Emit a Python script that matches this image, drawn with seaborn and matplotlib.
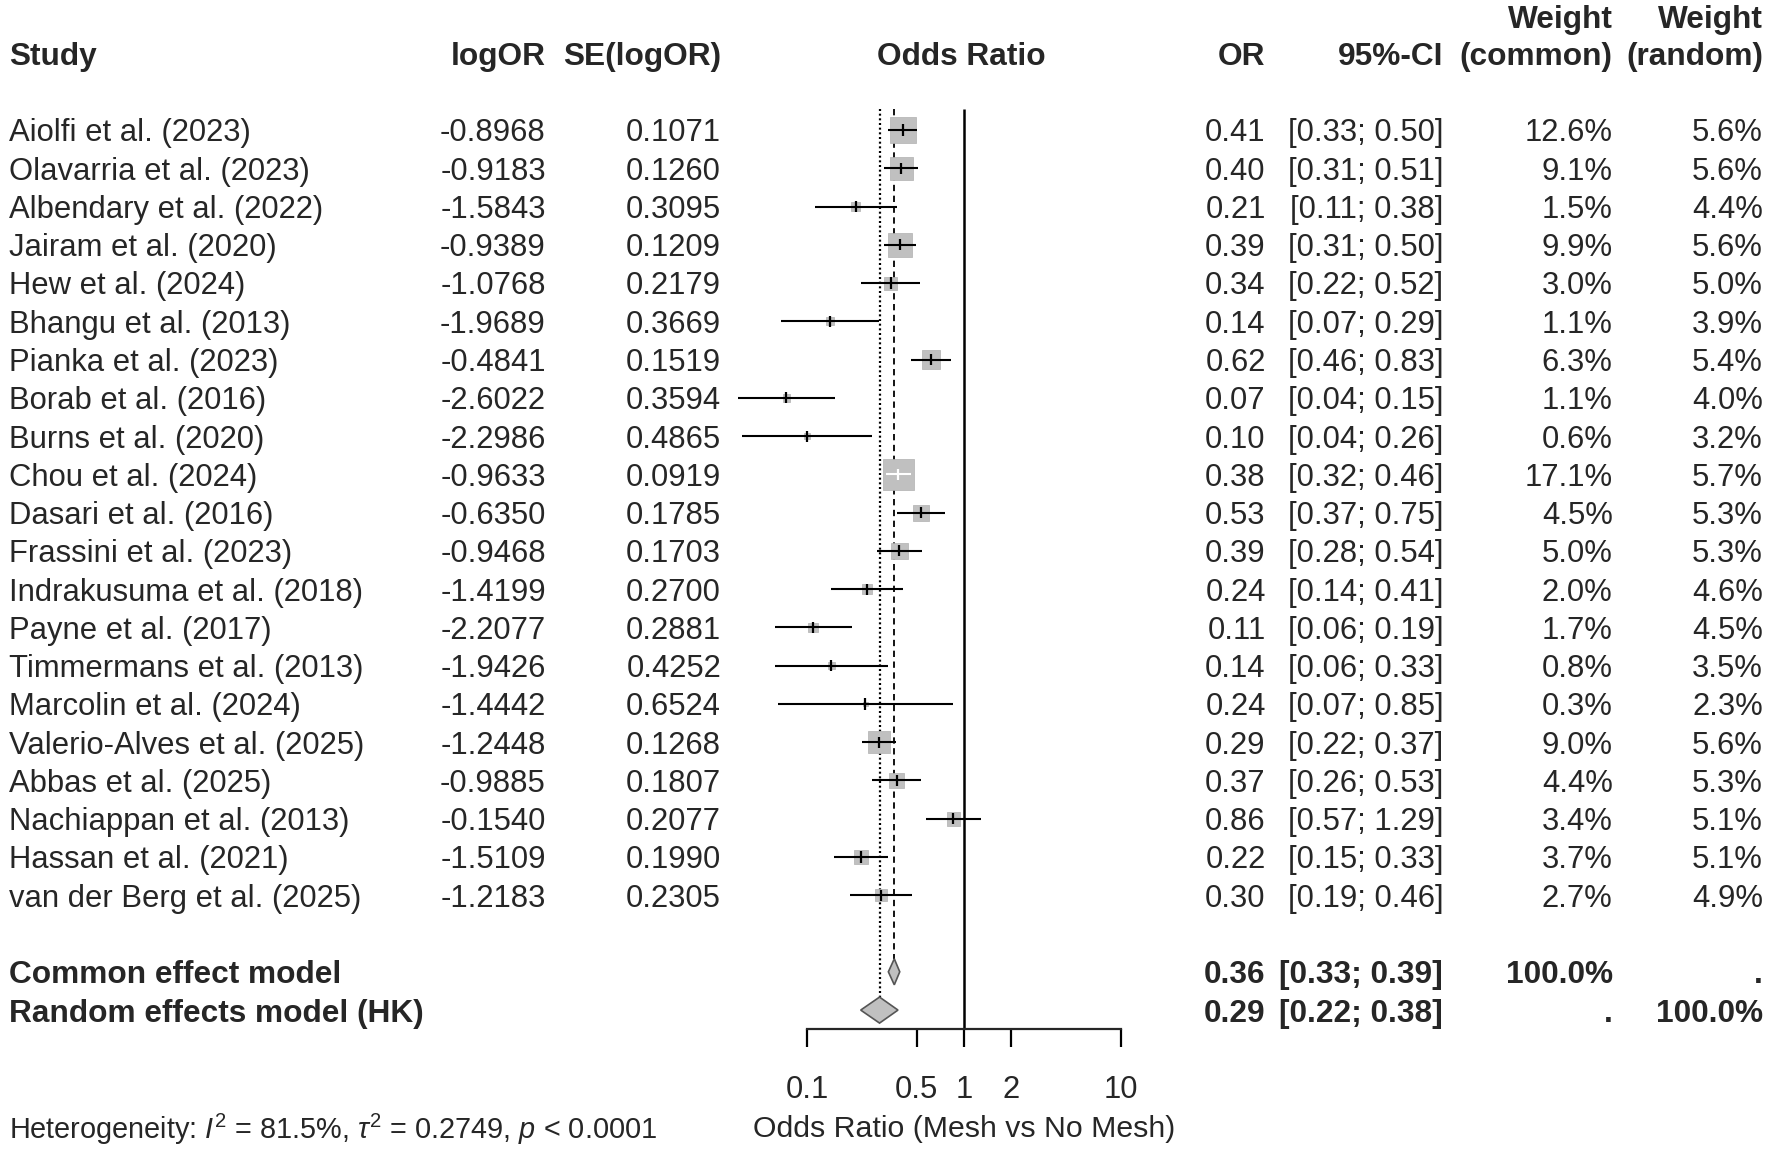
import numpy as np
import pandas as pd
import seaborn as sns
import matplotlib.pyplot as plt
from matplotlib.ticker import NullLocator
from matplotlib.transforms import blended_transform_factory

studies = [
    "Aiolfi et al. (2023)", "Olavarria et al. (2023)", "Albendary et al. (2022)",
    "Jairam et al. (2020)", "Hew et al. (2024)", "Bhangu et al. (2013)",
    "Pianka et al. (2023)", "Borab et al. (2016)", "Burns et al. (2020)",
    "Chou et al. (2024)", "Dasari et al. (2016)", "Frassini et al. (2023)",
    "Indrakusuma et al. (2018)", "Payne et al. (2017)", "Timmermans et al. (2013)",
    "Marcolin et al. (2024)", "Valerio-Alves et al. (2025)", "Abbas et al. (2025)",
    "Nachiappan et al. (2013)", "Hassan et al. (2021)", "van der Berg et al. (2025)",
]
log_or = [-0.8968, -0.9183, -1.5843, -0.9389, -1.0768, -1.9689, -0.4841, -2.6022,
          -2.2986, -0.9633, -0.6350, -0.9468, -1.4199, -2.2077, -1.9426, -1.4442,
          -1.2448, -0.9885, -0.1540, -1.5109, -1.2183]
se_log_or = [0.1071, 0.1260, 0.3095, 0.1209, 0.2179, 0.3669, 0.1519, 0.3594,
             0.4865, 0.0919, 0.1785, 0.1703, 0.2700, 0.2881, 0.4252, 0.6524,
             0.1268, 0.1807, 0.2077, 0.1990, 0.2305]
or_shown = [0.41, 0.40, 0.21, 0.39, 0.34, 0.14, 0.62, 0.07, 0.10, 0.38, 0.53,
            0.39, 0.24, 0.11, 0.14, 0.24, 0.29, 0.37, 0.86, 0.22, 0.30]
ci_lo_shown = [0.33, 0.31, 0.11, 0.31, 0.22, 0.07, 0.46, 0.04, 0.04, 0.32, 0.37,
               0.28, 0.14, 0.06, 0.06, 0.07, 0.22, 0.26, 0.57, 0.15, 0.19]
ci_hi_shown = [0.50, 0.51, 0.38, 0.50, 0.52, 0.29, 0.83, 0.15, 0.26, 0.46, 0.75,
               0.54, 0.41, 0.19, 0.33, 0.85, 0.37, 0.53, 1.29, 0.33, 0.46]
w_common = [12.6, 9.1, 1.5, 9.9, 3.0, 1.1, 6.3, 1.1, 0.6, 17.1, 4.5, 5.0, 2.0,
            1.7, 0.8, 0.3, 9.0, 4.4, 3.4, 3.7, 2.7]
w_random = [5.6, 5.6, 4.4, 5.6, 5.0, 3.9, 5.4, 4.0, 3.2, 5.7, 5.3, 5.3, 4.6,
            4.5, 3.5, 2.3, 5.6, 5.3, 5.1, 5.1, 4.9]

summary_labels = ["Common effect model", "Random effects model (HK)"]
summary_or = [0.36, 0.29]
summary_lo = [0.33, 0.22]
summary_hi = [0.39, 0.38]
summary_w_common = ["100.0%", "."]
summary_w_random = [".", "100.0%"]

x_ticks = [0.1, 0.5, 1, 2, 10]
x_tick_labels = ["0.1", "0.5", "1", "2", "10"]
x_label = "Odds Ratio (Mesh vs No Mesh)"
heterogeneity = "Heterogeneity: $I^2$ = 81.5%, $\\tau^2$ = 0.2749, $p$ < 0.0001"

sns.set_style("white")
plt.rcParams["font.family"] = ["Liberation Sans", "DejaVu Sans"]
plt.rcParams["mathtext.fontset"] = "custom"
plt.rcParams["mathtext.rm"] = "Liberation Sans"
plt.rcParams["mathtext.it"] = "Liberation Sans:italic"

FS = 22.3
FS_B = 22.8
GREY = "#c0c0c0"
DY = 0.09  # small downward nudge so text sits on the row centre

df = pd.DataFrame({
    "study": studies, "logor": log_or, "se": se_log_or,
    "w_common": w_common, "w_random": w_random,
})
df["row"] = np.arange(len(df))
df["or"] = np.exp(df["logor"])
df["lo"] = np.exp(df["logor"] - 1.96 * df["se"])
df["hi"] = np.exp(df["logor"] + 1.96 * df["se"])

n = len(df)
sum_rows = [n + 1, n + 2]

fig = plt.figure(figsize=(17.72, 11.53), dpi=100)
ax = fig.add_axes([0, 0, 1, 1])
ax.set_xscale("log")
# 157 px per decade, OR = 1 at x = 964 px
ax.set_xlim(10 ** (-964 / 157.1), 10 ** ((1772 - 964) / 157.1))
ax.set_ylim(26.735, -3.397)

# reference lines
top = -0.55
ax.vlines(1, top, n + 2.5, color="black", lw=1.8, zorder=1)
ax.vlines(summary_or[0], top, sum_rows[0] - 0.34, color="black", lw=1.3,
          linestyles=(0, (3.5, 2.5)), zorder=1)
ax.vlines(summary_or[1], top, sum_rows[1] - 0.34, color="black", lw=1.6,
          linestyles=(0, (0.9, 1.2)), zorder=1)

# squares, area proportional to common-effect weight
max_side_pt = 31 / 1.389
sns.scatterplot(data=df, x="or", y="row", size="w_common",
                sizes=(0, max_side_pt ** 2), size_norm=(0, max(w_common)),
                marker="s", color=GREY, edgecolor="#b0b0b0", linewidth=0.5,
                legend=False, ax=ax, zorder=2)

# CI lines: white when they fit inside the square
side_dec = max_side_pt * 1.389 * np.sqrt(df["w_common"] / max(w_common)) / 157.1
inside = (np.log10(df["hi"]) - np.log10(df["lo"])) < side_dec
line_cols = ["white" if v else "black" for v in inside]
ax.hlines(df["row"], df["lo"], df["hi"], colors=line_cols, lw=1.5, zorder=3)
ax.scatter(df["or"], df["row"], marker="|", s=64, linewidths=1.6,
           c=line_cols, zorder=4)

# diamonds
for r, est, lo, hi in zip(sum_rows, summary_or, summary_lo, summary_hi):
    ax.fill([lo, est, hi, est], [r, r - 0.34, r, r + 0.34], facecolor=GREY,
            edgecolor="#555555", lw=1.2, zorder=3)

# x axis
for side in ["left", "top", "right"]:
    ax.spines[side].set_visible(False)
ax.spines["bottom"].set_position(("data", n + 2.5))
ax.spines["bottom"].set_bounds(0.1, 10)
ax.spines["bottom"].set_linewidth(1.6)
ax.set_xticks(x_ticks)
ax.set_xticklabels(x_tick_labels, fontsize=FS)
ax.xaxis.set_minor_locator(NullLocator())
ax.tick_params(axis="x", direction="out", length=13, width=1.6, pad=20,
               bottom=True, color="black")
ax.set_yticks([])
ax.set_xlabel("")
ax.set_ylabel("")

tr = blended_transform_factory(ax.transAxes, ax.transData)
W = 1568.0
col_study = 8 / W
col_logor = 483 / W
col_se = 638 / W
col_or = 1120 / W
col_ci = 1277 / W
col_wc = 1427 / W
col_wr = 1560 / W

# header
hdr = dict(transform=tr, fontsize=FS_B, fontweight="bold", va="center")
ax.text(col_study, -2 + DY, "Study", ha="left", **hdr)
ax.text(col_logor, -2 + DY, "logOR", ha="right", **hdr)
ax.text(col_se, -2 + DY, "SE(logOR)", ha="right", **hdr)
ax.text(851 / W, -2 + DY, "Odds Ratio", ha="center", **hdr)
ax.text(col_or, -2 + DY, "OR", ha="right", **hdr)
ax.text(col_ci, -2 + DY, "95%-CI", ha="right", **hdr)
ax.text(col_wc, -2.97 + DY, "Weight", ha="right", **hdr)
ax.text(col_wc, -2 + DY, "(common)", ha="right", **hdr)
ax.text(col_wr, -2.97 + DY, "Weight", ha="right", **hdr)
ax.text(col_wr, -2 + DY, "(random)", ha="right", **hdr)

# study rows
txt = dict(transform=tr, fontsize=FS, va="center")
for i in range(n):
    y = i + DY
    ax.text(col_study, y, studies[i], ha="left", **txt)
    ax.text(col_logor, y, f"{log_or[i]:.4f}", ha="right", **txt)
    ax.text(col_se, y, f"{se_log_or[i]:.4f}", ha="right", **txt)
    ax.text(col_or, y, f"{or_shown[i]:.2f}", ha="right", **txt)
    ax.text(col_ci, y, f"[{ci_lo_shown[i]:.2f}; {ci_hi_shown[i]:.2f}]", ha="right", **txt)
    ax.text(col_wc, y, f"{w_common[i]:.1f}%", ha="right", **txt)
    ax.text(col_wr, y, f"{w_random[i]:.1f}%", ha="right", **txt)

# summary rows
for k, r in enumerate(sum_rows):
    y = r + DY
    ax.text(col_study, y, summary_labels[k], ha="left", **hdr)
    ax.text(col_or, y, f"{summary_or[k]:.2f}", ha="right", **hdr)
    ax.text(col_ci, y, f"[{summary_lo[k]:.2f}; {summary_hi[k]:.2f}]", ha="right", **hdr)
    ax.text(col_wc, y, summary_w_common[k], ha="right", **hdr)
    ax.text(col_wr, y, summary_w_random[k], ha="right", **hdr)

ax.text(1, 26.03 + DY, x_label, transform=ax.transData, ha="center", va="center",
        fontsize=FS - 0.5)
ax.text(col_study, 26.03 + DY, heterogeneity, ha="left", va="center",
        fontsize=FS - 1.5, transform=tr)

fig.savefig("out.png", dpi=100)
